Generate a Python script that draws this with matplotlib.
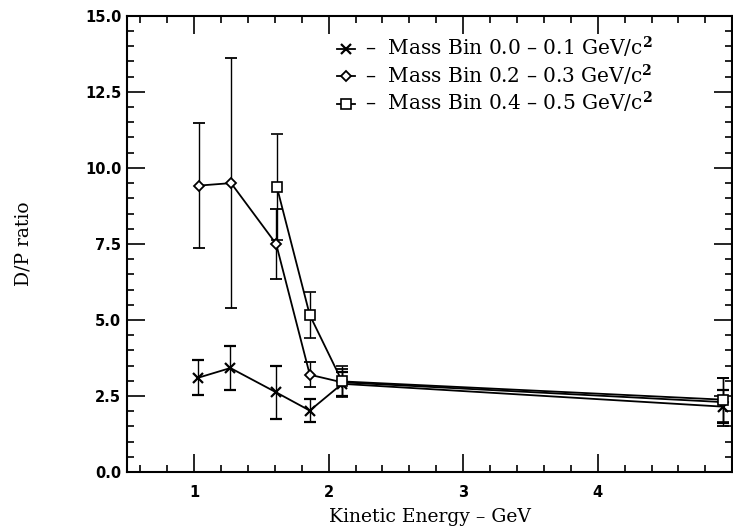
import matplotlib
matplotlib.use("Agg")
import matplotlib.pyplot as plt
from matplotlib.ticker import MultipleLocator

# kinetic energy (GeV) and D/P ratio per mass bin
x_low = [1.03, 1.27, 1.61, 1.86, 2.10, 4.93]
y_low = [3.10, 3.42, 2.62, 2.02, 2.90, 2.15]
err_low = [0.58, 0.72, 0.87, 0.37, 0.40, 0.55]

x_mid = [1.04, 1.275, 1.61, 1.86, 2.10, 4.93]
y_mid = [9.42, 9.50, 7.50, 3.20, 2.95, 2.30]
err_mid = [2.05, 4.10, 1.15, 0.42, 0.45, 0.80]

x_high = [1.615, 1.86, 2.10, 4.93]
y_high = [9.38, 5.16, 2.98, 2.38]
err_high = [1.75, 0.75, 0.50, 0.72]

labels = [r"–  Mass Bin 0.0 – 0.1 GeV/c$^\mathbf{2}$",
          r"–  Mass Bin 0.2 – 0.3 GeV/c$^\mathbf{2}$",
          r"–  Mass Bin 0.4 – 0.5 GeV/c$^\mathbf{2}$"]

plt.rcParams["mathtext.fontset"] = "dejavuserif"

fig = plt.figure(figsize=(7.33, 5.28), dpi=100)
ax = fig.add_axes([0.173, 0.106, 0.826, 0.864])

common = dict(color="black", lw=1.3, capsize=4, elinewidth=1.0, capthick=1.2,
              mfc="white", mec="black")
h1 = ax.errorbar(x_low, y_low, yerr=err_low, marker="x", ms=7, mew=1.6, **common)
h2 = ax.errorbar(x_mid, y_mid, yerr=err_mid, marker="D", ms=5, mew=1.3, **common)
h3 = ax.errorbar(x_high, y_high, yerr=err_high, marker="s", ms=7, mew=1.2, **common)

ax.set_xlim(0.5, 5.0)
ax.set_ylim(0, 15)
ax.xaxis.set_major_locator(MultipleLocator(1))
ax.xaxis.set_minor_locator(MultipleLocator(0.2))
ax.yaxis.set_major_locator(MultipleLocator(2.5))
ax.yaxis.set_minor_locator(MultipleLocator(0.5))
ax.set_xticks([1, 2, 3, 4])
ax.tick_params(which="both", direction="in", top=True, right=True, width=1.2)
ax.tick_params(which="major", length=13)
ax.tick_params(which="minor", length=5)
ax.yaxis.set_major_formatter(matplotlib.ticker.FormatStrFormatter("%.1f"))
for lbl in ax.get_xticklabels() + ax.get_yticklabels():
    lbl.set_fontfamily("DejaVu Sans")
    lbl.set_fontweight("bold")
    lbl.set_fontsize(10.5)
ax.tick_params(axis="x", pad=9)
ax.tick_params(axis="y", pad=4)
for s in ax.spines.values():
    s.set_linewidth(1.5)

ax.set_xlabel("Kinetic Energy – GeV", family="DejaVu Serif", fontsize=13.5, labelpad=6)
ax.set_ylabel("D/P ratio", family="DejaVu Serif", fontsize=13.5, labelpad=38)

leg = ax.legend([h1[0], h2[0], h3[0]], labels, loc="upper left",
                bbox_to_anchor=(0.33, 0.98), frameon=False, handlelength=0.9,
                handletextpad=0.5, labelspacing=0.12, borderpad=0,
                prop={"family": "DejaVu Serif", "size": 14.5})

fig.savefig("out.png", dpi=100)
